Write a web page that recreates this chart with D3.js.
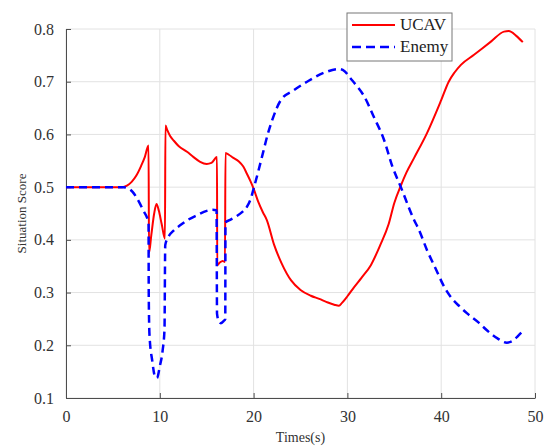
<!DOCTYPE html>
<html>
<head>
<meta charset="utf-8">
<script src="https://cdn.jsdelivr.net/npm/d3@7"></script>
<style>
    body { margin: 0; background: #fff; }
    svg { display: block; font-family: "Liberation Serif", "DejaVu Serif", serif; }
</style>
</head>
<body>
<div id="chart"></div>
<script>
// time (s) and situation score
const ucavT = [0, 6, 6.5, 7, 7.5, 8, 8.4, 8.8, 8.85, 9.1, 9.4, 9.65, 9.9, 10.2, 10.55, 10.6, 10.8, 11.1, 11.5, 12, 12.9, 13.6, 14.3, 15, 15.5, 16.1, 16.12, 16.4, 16.7, 16.95, 17.0, 17.4, 17.8, 18.4, 18.9, 19.3, 19.7, 20, 20.5, 21, 21.4, 22.2, 23, 24, 25, 26.1, 27, 27.8, 28.6, 29.1, 29.4, 30, 30.7, 31.5, 32.5, 33.5, 34.4, 35, 35.7, 36.3, 37.1, 38.5, 40, 40.8, 41.4, 42.1, 43.5, 45.3, 46.7, 47.2, 48, 48.7];
const ucav = [0.5, 0.5, 0.503, 0.51, 0.522, 0.54, 0.557, 0.579, 0.375, 0.41, 0.45, 0.468, 0.455, 0.43, 0.402, 0.617, 0.608, 0.597, 0.588, 0.578, 0.567, 0.557, 0.548, 0.544, 0.546, 0.557, 0.352, 0.357, 0.36, 0.358, 0.565, 0.561, 0.556, 0.549, 0.539, 0.525, 0.51, 0.497, 0.472, 0.452, 0.438, 0.39, 0.355, 0.323, 0.305, 0.294, 0.288, 0.282, 0.277, 0.275, 0.28, 0.293, 0.31, 0.328, 0.352, 0.39, 0.43, 0.47, 0.503, 0.528, 0.555, 0.603, 0.665, 0.7, 0.717, 0.732, 0.751, 0.776, 0.795, 0.796, 0.787, 0.775];

const enemyT = [0, 6.1, 6.6, 7.1, 7.6, 8.2, 8.8, 8.82, 8.9, 9.2, 9.5, 9.7, 10.0, 10.3, 10.5, 10.58, 10.9, 11.5, 12.2, 13, 14, 15, 15.6, 16.05, 16.1, 16.3, 16.5, 16.8, 16.98, 17.0, 17.5, 18.2, 18.8, 19.3, 19.7, 20, 20.5, 21, 21.5, 22, 22.9, 24.3, 25.7, 27.5, 29.1, 29.7, 30.3, 31, 31.8, 32.8, 33.9, 34.8, 35.7, 37.1, 37.6, 38.5, 39.5, 40.2, 41, 42, 42.8, 44, 44.9, 46, 47, 47.6, 48.2, 48.7];
const enemy = [0.5, 0.5, 0.498, 0.491, 0.478, 0.457, 0.432, 0.3, 0.22, 0.17, 0.14, 0.138, 0.16, 0.19, 0.23, 0.39, 0.405, 0.418, 0.428, 0.438, 0.447, 0.455, 0.457, 0.456, 0.26, 0.245, 0.242, 0.246, 0.25, 0.433, 0.438, 0.445, 0.453, 0.463, 0.478, 0.497, 0.53, 0.565, 0.6, 0.628, 0.665, 0.684, 0.7, 0.717, 0.724, 0.72, 0.707, 0.692, 0.672, 0.634, 0.59, 0.539, 0.5, 0.438, 0.42, 0.38, 0.342, 0.315, 0.292, 0.273, 0.26, 0.243, 0.228, 0.213, 0.205, 0.208, 0.218, 0.227];

const xTicks = [0, 10, 20, 30, 40, 50];
const yTicks = [0.1, 0.2, 0.3, 0.4, 0.5, 0.6, 0.7, 0.8];
const seriesNames = ["UCAV", "Enemy"];

const W = 548, H = 447;
const margin = { top: 29, right: 13, bottom: 49, left: 66 };
const width = W - margin.left - margin.right;
const height = H - margin.top - margin.bottom;

const svg = d3.select("#chart").append("svg")
    .attr("width", W)
    .attr("height", H);

const g = svg.append("g")
    .attr("transform", `translate(${margin.left},${margin.top})`);

const x = d3.scaleLinear().domain([0, 50]).range([0, width]);
const y = d3.scaleLinear().domain([0.1, 0.8]).range([height, 0]);

// grid
g.append("g").selectAll("line")
    .data(xTicks)
    .enter().append("line")
    .attr("x1", d => x(d)).attr("x2", d => x(d))
    .attr("y1", 0).attr("y2", height)
    .attr("stroke", "#e2e2e2");
g.append("g").selectAll("line")
    .data(yTicks)
    .enter().append("line")
    .attr("x1", 0).attr("x2", width)
    .attr("y1", d => y(d)).attr("y2", d => y(d))
    .attr("stroke", "#e2e2e2");

// axes, ticks pointing inwards
const xAxis = g.append("g")
    .attr("transform", `translate(0,${height})`)
    .call(d3.axisBottom(x).tickValues(xTicks).tickSizeInner(-5).tickSizeOuter(0).tickPadding(13));
const yAxis = g.append("g")
    .call(d3.axisLeft(y).tickValues(yTicks).tickFormat(d3.format(".1f")).tickSizeInner(-5).tickSizeOuter(0).tickPadding(12));

[xAxis, yAxis].forEach(a => {
    a.select(".domain").attr("stroke", "#4d4d4d");
    a.selectAll(".tick line").attr("stroke", "#4d4d4d");
    a.selectAll(".tick text")
        .attr("fill", "#333")
        .style("font-size", "16px")
        .style("font-family", "Liberation Serif, serif");
});

// lines
const line = d3.line()
    .curve(d3.curveMonotoneX)
    .x(d => x(d[0]))
    .y(d => y(d[1]));

g.append("path")
    .datum(ucavT.map((t, i) => [t, ucav[i]]))
    .attr("fill", "none")
    .attr("stroke", "#ff0000")
    .attr("stroke-width", 2)
    .attr("d", line);

g.append("path")
    .datum(enemyT.map((t, i) => [t, enemy[i]]))
    .attr("fill", "none")
    .attr("stroke", "#0000ff")
    .attr("stroke-width", 2.5)
    .attr("stroke-dasharray", "8,5")
    .attr("d", line);

// axis labels
svg.append("text")
    .attr("x", margin.left + width / 2)
    .attr("y", 442)
    .attr("text-anchor", "middle")
    .attr("fill", "#333")
    .style("font-size", "14px")
    .text("Times(s)");

svg.append("text")
    .attr("transform", `translate(26,${margin.top + height / 2}) rotate(-90)`)
    .attr("text-anchor", "middle")
    .attr("fill", "#333")
    .style("font-size", "13px")
    .text("Situation Score");

// legend
const legend = svg.append("g").attr("transform", "translate(347,13)");
legend.append("rect")
    .attr("width", 105).attr("height", 48)
    .attr("fill", "#fff")
    .attr("stroke", "#777");

const colors = ["#ff0000", "#0000ff"];
seriesNames.forEach((name, i) => {
    const yy = 12 + i * 22;
    legend.append("line")
        .attr("x1", 5).attr("x2", 48)
        .attr("y1", yy).attr("y2", yy)
        .attr("stroke", colors[i])
        .attr("stroke-width", i === 0 ? 2 : 2.5)
        .attr("stroke-dasharray", i === 0 ? null : "9,5");
    legend.append("text")
        .attr("x", 53).attr("y", yy + 5)
        .attr("fill", "#222")
        .style("font-size", "17px")
        .text(name);
});
</script>
</body>
</html>
